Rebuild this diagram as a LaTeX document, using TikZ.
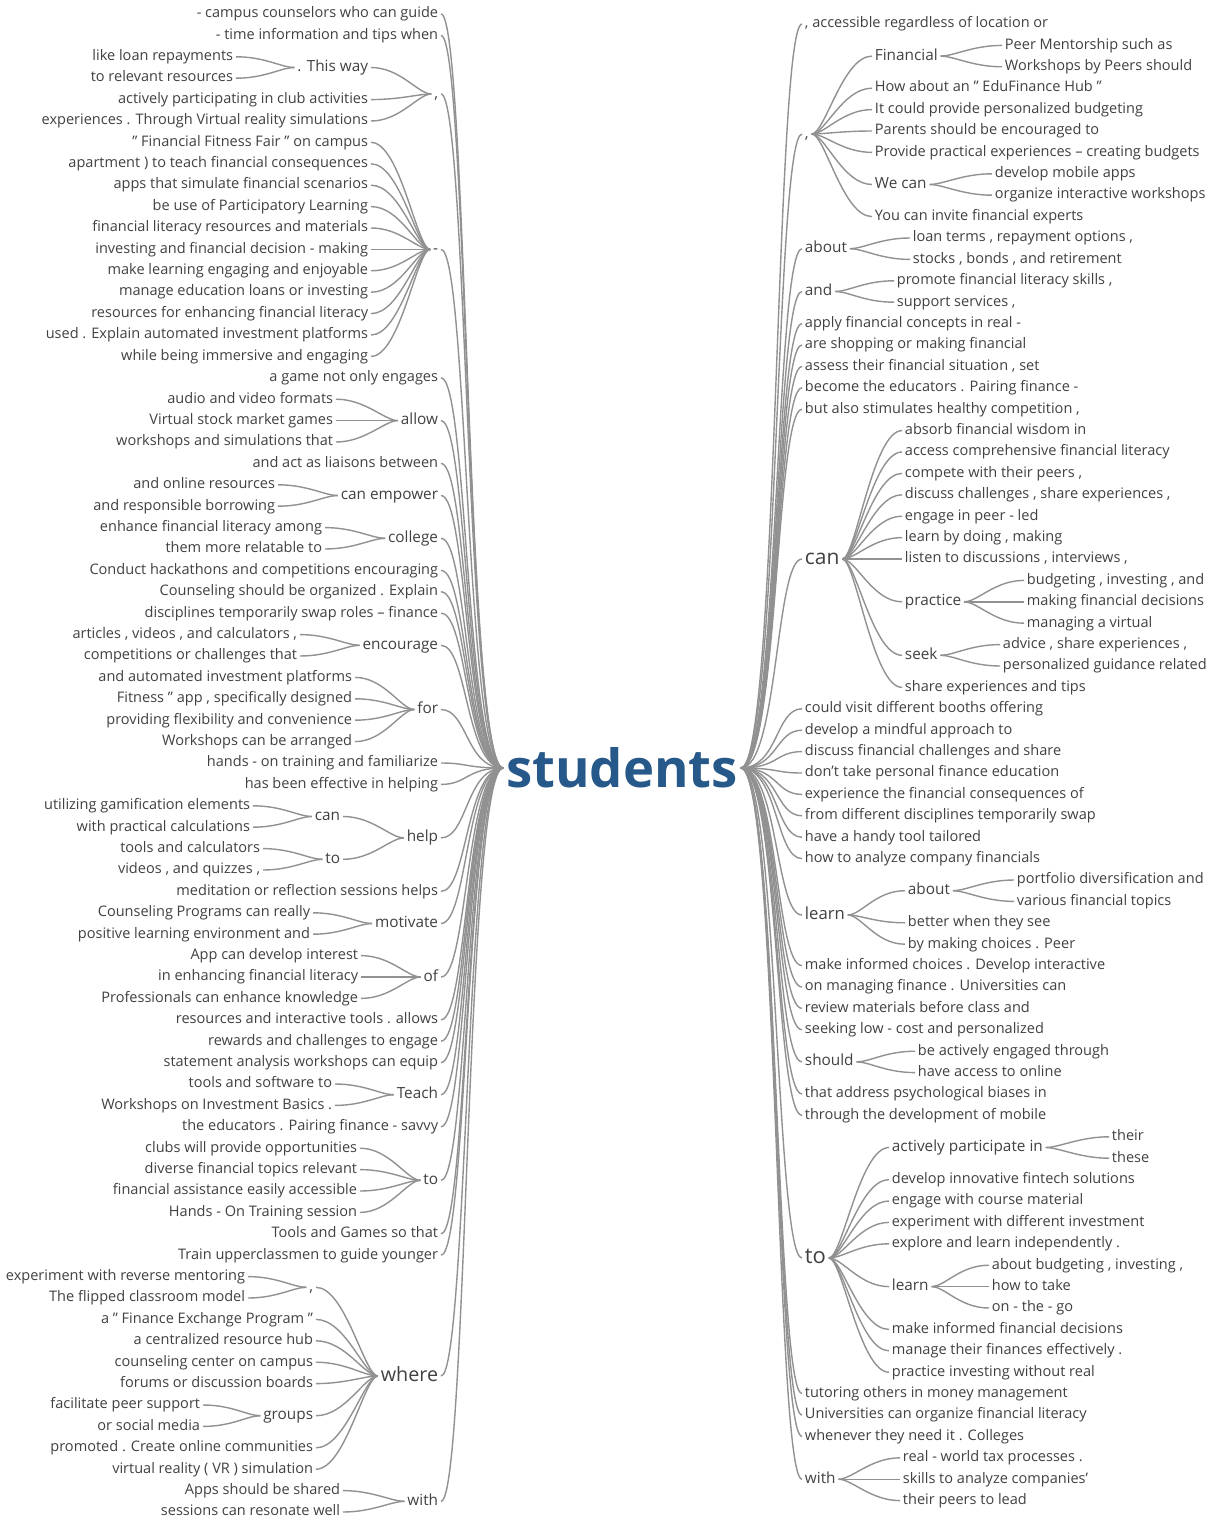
\documentclass[tikz,border=0pt]{standalone}
\usepackage{fontspec}
\setmainfont{Open Sans}
\usetikzlibrary{positioning}
\definecolor{stud}{RGB}{38,88,138}
\definecolor{twig}{RGB}{145,145,145}
\definecolor{ink}{RGB}{65,65,65}

\tikzset{
  wd/.style={font=\fontsize{10.9}{12}\selectfont, text=ink, inner sep=2pt, text height=8.3pt, text depth=2.6pt},
  wdm/.style={font=\fontsize{11.5}{13}\selectfont, text height=8.8pt, text depth=2.7pt},
  lw/.style={wd, anchor=east},
  rw/.style={wd, anchor=west},
  br/.style={draw=twig, line width=1.05pt},
  tlr/.style={out=180, in=0, out distance=28pt, in distance=20pt},
  trr/.style={out=0, in=180, out distance=28pt, in distance=20pt},
  tl/.style={out=180, in=0, out distance=10pt, in distance=22pt},
  tr/.style={out=0, in=180, out distance=10pt, in distance=22pt},
}

\begin{document}
\begin{tikzpicture}[x=0.75pt, y=-0.75pt]
  \useasboundingbox (0,0) rectangle (1214,1519);
  \fill[white] (0,0) rectangle (1214,1519);

  % centre word
  \node[font=\fontsize{39.5}{40}\selectfont\bfseries, text=stud, inner sep=2pt] (root) at (622,768) {students};

  % left side, first level
  \node[lw] (l1) at (441,14.0) {- campus counselors who can guide};
  \node[lw] (l2) at (441,35.4) {- time information and tips when};
  \node[lw, wdm] (Lcomma) at (441,94) {,};
  \node[lw, wdm] (Ldash) at (441,249.4) {-};
  \node[lw] (l18) at (441,377.8) {a game not only engages};
  \node[lw, wdm] (Lallow) at (441,420.6) {allow};
  \node[lw] (l22) at (441,463.4) {and act as liaisons between};
  \node[lw, wdm] (Lempower) at (441,495.5) {can empower};
  \node[lw, wdm] (Lcollege) at (441,538.3) {college};
  \node[lw] (l27) at (441,570.4) {Conduct hackathons and competitions encouraging};
  \node[lw] (l28) at (441,591.8) {Counseling should be organized . Explain};
  \node[lw] (l29) at (441,613.2) {disciplines temporarily swap roles -- finance};
  \node[lw, wdm] (Lencourage) at (441,645.3) {encourage};
  \node[lw, wdm] (Lfor) at (441,709.5) {for};
  \node[lw] (l36) at (441,763.0) {hands - on training and familiarize};
  \node[lw] (l37) at (441,784.4) {has been effective in helping};
  \node[lw, wdm] (Lhelp) at (441,837.9) {help};
  \node[lw] (l42) at (441,891.4) {meditation or reflection sessions helps};
  \node[lw, wdm] (Lmotivate) at (441,923.5) {motivate};
  \node[lw, wdm] (Lof) at (441,977.0) {of};
  \node[lw] (l48) at (441,1019.8) {resources and interactive tools . allows};
  \node[lw] (l49) at (441,1041.2) {rewards and challenges to engage};
  \node[lw] (l50) at (441,1062.6) {statement analysis workshops can equip};
  \node[lw, wdm] (Lteach) at (441,1094.7) {Teach};
  \node[lw] (l53) at (441,1126.8) {the educators . Pairing finance - savvy};
  \node[lw, wdm] (Lto) at (441,1180.3) {to};
  \node[lw] (l58) at (441,1233.8) {Tools and Games so that};
  \node[lw] (l59) at (441,1255.2) {Train upperclassmen to guide younger};
  \node[lw, font=\fontsize{14.8}{16}\selectfont, text height=11.3pt, text depth=3.4pt] (Lwhere) at (441,1376) {where};
  \node[lw, wdm] (Lwith) at (441,1501.3) {with};

  % left side, deeper levels
  \node[lw, wdm] (Lway) at (371,67.5) {. This way};
  \node[lw] (l3) at (236,56.8) {like loan repayments};
  \node[lw] (l4) at (236,78.2) {to relevant resources};
  \node[lw] (l5) at (371,99.6) {actively participating in club activities};
  \node[lw] (l6) at (371,121.0) {experiences . Through Virtual reality simulations};
  \node[lw] (l7) at (371,142.4) {" Financial Fitness Fair " on campus};
  \node[lw] (l8) at (371,163.8) {apartment ) to teach financial consequences};
  \node[lw] (l9) at (371,185.2) {apps that simulate financial scenarios};
  \node[lw] (l10) at (371,206.6) {be use of Participatory Learning};
  \node[lw] (l11) at (371,228.0) {financial literacy resources and materials};
  \node[lw] (l12) at (371,249.4) {investing and financial decision - making};
  \node[lw] (l13) at (371,270.8) {make learning engaging and enjoyable};
  \node[lw] (l14) at (371,292.2) {manage education loans or investing};
  \node[lw] (l15) at (371,313.6) {resources for enhancing financial literacy};
  \node[lw] (l16) at (371,335.0) {used . Explain automated investment platforms};
  \node[lw] (l17) at (371,356.4) {while being immersive and engaging};
  \node[lw] (l19) at (336,399.2) {audio and video formats};
  \node[lw] (l20) at (336,420.6) {Virtual stock market games};
  \node[lw] (l21) at (336,442.0) {workshops and simulations that};
  \node[lw] (l23) at (278,484.8) {and online resources};
  \node[lw] (l24) at (278,506.2) {and responsible borrowing};
  \node[lw] (l25) at (325,527.6) {enhance financial literacy among};
  \node[lw] (l26) at (325,549.0) {them more relatable to};
  \node[lw] (l30) at (300,634.6) {articles , videos , and calculators ,};
  \node[lw] (l31) at (300,656.0) {competitions or challenges that};
  \node[lw] (l32) at (355,677.4) {and automated investment platforms};
  \node[lw] (l33) at (355,698.8) {Fitness " app , specifically designed};
  \node[lw] (l34) at (355,720.2) {providing flexibility and convenience};
  \node[lw] (l35) at (355,741.6) {Workshops can be arranged};
  \node[lw, wdm] (Lhcan) at (343,816.5) {can};
  \node[lw, wdm] (Lhto) at (343,859.3) {to};
  \node[lw] (l38) at (253,805.8) {utilizing gamification elements};
  \node[lw] (l39) at (253,827.2) {with practical calculations};
  \node[lw] (l40) at (263,848.6) {tools and calculators};
  \node[lw] (l41) at (263,870.0) {videos , and quizzes ,};
  \node[lw] (l43) at (313,912.8) {Counseling Programs can really};
  \node[lw] (l44) at (313,934.2) {positive learning environment and};
  \node[lw] (l45) at (361,955.6) {App can develop interest};
  \node[lw] (l46) at (361,977.0) {in enhancing financial literacy};
  \node[lw] (l47) at (361,998.4) {Professionals can enhance knowledge};
  \node[lw] (l51) at (335,1084.0) {tools and software to};
  \node[lw] (l52) at (335,1105.4) {Workshops on Investment Basics .};
  \node[lw] (l54) at (360,1148.2) {clubs will provide opportunities};
  \node[lw] (l55) at (360,1169.6) {diverse financial topics relevant};
  \node[lw] (l56) at (360,1191.0) {financial assistance easily accessible};
  \node[lw] (l57) at (360,1212.4) {Hands - On Training session};
  \node[lw, wdm] (Lwcomma) at (316,1287.3) {,};
  \node[lw] (l60) at (248,1276.6) {experiment with reverse mentoring};
  \node[lw] (l61) at (248,1298.0) {The flipped classroom model};
  \node[lw] (l62) at (316,1319.4) {a " Finance Exchange Program "};
  \node[lw] (l63) at (316,1340.8) {a centralized resource hub};
  \node[lw] (l64) at (316,1362.2) {counseling center on campus};
  \node[lw] (l65) at (316,1383.6) {forums or discussion boards};
  \node[lw, wdm] (Lgroups) at (316,1415.7) {groups};
  \node[lw] (l66) at (203,1405.0) {facilitate peer support};
  \node[lw] (l67) at (203,1426.4) {or social media};
  \node[lw] (l68) at (316,1447.8) {promoted . Create online communities};
  \node[lw] (l69) at (316,1469.2) {virtual reality ( VR ) simulation};
  \node[lw] (l70) at (343,1490.6) {Apps should be shared};
  \node[lw] (l71) at (343,1512.0) {sessions can resonate well};

  % right side, first level
  \node[rw] (r1) at (802,24.0) {, accessible regardless of location or};
  \node[rw, wdm] (Rcomma) at (802,134) {,};
  \node[rw, wdm] (Rabout) at (802,248.7) {about};
  \node[rw, wdm] (Rand) at (802,291.5) {and};
  \node[rw] (r15) at (802,323.6) {apply financial concepts in real -};
  \node[rw] (r16) at (802,345.0) {are shopping or making financial};
  \node[rw] (r17) at (802,366.4) {assess their financial situation , set};
  \node[rw] (r18) at (802,387.8) {become the educators . Pairing finance -};
  \node[rw] (r19) at (802,409.2) {but also stimulates healthy competition ,};
  \node[rw, font=\fontsize{15.7}{17}\selectfont, text height=12pt, text depth=3.6pt] (Rcan) at (802,559) {can};
  \node[rw] (r33) at (802,708.8) {could visit different booths offering};
  \node[rw] (r34) at (802,730.2) {develop a mindful approach to};
  \node[rw] (r35) at (802,751.6) {discuss financial challenges and share};
  \node[rw] (r36) at (802,773.0) {don't take personal finance education};
  \node[rw] (r37) at (802,794.4) {experience the financial consequences of};
  \node[rw] (r38) at (802,815.8) {from different disciplines temporarily swap};
  \node[rw] (r39) at (802,837.2) {have a handy tool tailored};
  \node[rw] (r40) at (802,858.6) {how to analyze company financials};
  \node[rw, font=\fontsize{12.5}{14}\selectfont, text height=9.5pt, text depth=2.9pt] (Rlearn) at (802,915) {learn};
  \node[rw] (r45) at (802,965.6) {make informed choices . Develop interactive};
  \node[rw] (r46) at (802,987.0) {on managing finance . Universities can};
  \node[rw] (r47) at (802,1008.4) {review materials before class and};
  \node[rw] (r48) at (802,1029.8) {seeking low - cost and personalized};
  \node[rw, wdm] (Rshould) at (802,1061.9) {should};
  \node[rw] (r51) at (802,1094.0) {that address psychological biases in};
  \node[rw] (r52) at (802,1115.4) {through the development of mobile};
  \node[rw, font=\fontsize{16.5}{18}\selectfont, text height=12.6pt, text depth=3.8pt] (Rto) at (802,1258) {to};
  \node[rw] (r65) at (802,1393.6) {tutoring others in money management};
  \node[rw] (r66) at (802,1415.0) {Universities can organize financial literacy};
  \node[rw] (r67) at (802,1436.4) {whenever they need it . Colleges};
  \node[rw, wdm] (Rwith) at (802,1479.2) {with};

  % right side, deeper levels
  \node[rw, wdm] (Rfin) at (872,56.1) {Financial};
  \node[rw] (r2) at (1002,45.4) {Peer Mentorship such as};
  \node[rw] (r3) at (1002,66.8) {Workshops by Peers should};
  \node[rw] (r4) at (872,88.2) {How about an " EduFinance Hub "};
  \node[rw] (r5) at (872,109.6) {It could provide personalized budgeting};
  \node[rw] (r6) at (872,131.0) {Parents should be encouraged to};
  \node[rw] (r7) at (872,152.4) {Provide practical experiences -- creating budgets};
  \node[rw, wdm] (Rwecan) at (872,184.5) {We can};
  \node[rw] (r8) at (992,173.8) {develop mobile apps};
  \node[rw] (r9) at (992,195.2) {organize interactive workshops};
  \node[rw] (r10) at (872,216.6) {You can invite financial experts};
  \node[rw] (r11) at (910,238.0) {loan terms , repayment options ,};
  \node[rw] (r12) at (910,259.4) {stocks , bonds , and retirement};
  \node[rw] (r13) at (894,280.8) {promote financial literacy skills ,};
  \node[rw] (r14) at (894,302.2) {support services ,};
  \node[rw] (r20) at (902,430.6) {absorb financial wisdom in};
  \node[rw] (r21) at (902,452.0) {access comprehensive financial literacy};
  \node[rw] (r22) at (902,473.4) {compete with their peers ,};
  \node[rw] (r23) at (902,494.8) {discuss challenges , share experiences ,};
  \node[rw] (r24) at (902,516.2) {engage in peer - led};
  \node[rw] (r25) at (902,537.6) {learn by doing , making};
  \node[rw] (r26) at (902,559.0) {listen to discussions , interviews ,};
  \node[rw, wdm] (Rpractice) at (902,601.8) {practice};
  \node[rw] (r27) at (1024,580.4) {budgeting , investing , and};
  \node[rw] (r28) at (1024,601.8) {making financial decisions};
  \node[rw] (r29) at (1024,623.2) {managing a virtual};
  \node[rw, wdm] (Rseek) at (902,655.3) {seek};
  \node[rw] (r30) at (1000,644.6) {advice , share experiences ,};
  \node[rw] (r31) at (1000,666.0) {personalized guidance related};
  \node[rw] (r32) at (902,687.4) {share experiences and tips};
  \node[rw, wdm] (Rlabout) at (905,890.7) {about};
  \node[rw] (r41) at (1014,880.0) {portfolio diversification and};
  \node[rw] (r42) at (1014,901.4) {various financial topics};
  \node[rw] (r43) at (905,922.8) {better when they see};
  \node[rw] (r44) at (905,944.2) {by making choices . Peer};
  \node[rw] (r49) at (915,1051.2) {be actively engaged through};
  \node[rw] (r50) at (915,1072.6) {have access to online};
  \node[rw, wdm] (Ractive) at (889,1147.5) {actively participate in};
  \node[rw] (r53) at (1109,1136.8) {their};
  \node[rw] (r54) at (1109,1158.2) {these};
  \node[rw] (r55) at (889,1179.6) {develop innovative fintech solutions};
  \node[rw] (r56) at (889,1201.0) {engage with course material};
  \node[rw] (r57) at (889,1222.4) {experiment with different investment};
  \node[rw] (r58) at (889,1243.8) {explore and learn independently .};
  \node[rw, wdm] (Rtlearn) at (889,1286.6) {learn};
  \node[rw] (r59) at (989,1265.2) {about budgeting , investing ,};
  \node[rw] (r60) at (989,1286.6) {how to take};
  \node[rw] (r61) at (989,1308.0) {on - the - go};
  \node[rw] (r62) at (889,1329.4) {make informed financial decisions};
  \node[rw] (r63) at (889,1350.8) {manage their finances effectively .};
  \node[rw] (r64) at (889,1372.2) {practice investing without real};
  \node[rw] (r68) at (900,1457.8) {real - world tax processes .};
  \node[rw] (r69) at (900,1479.2) {skills to analyze companies'};
  \node[rw] (r70) at (900,1500.6) {their peers to lead};

  % branches from the centre word
  \foreach \n in {l1,l2,Lcomma,Ldash,l18,Lallow,l22,Lempower,Lcollege,l27,l28,l29,Lencourage,Lfor,l36,l37,Lhelp,l42,Lmotivate,Lof,l48,l49,l50,Lteach,l53,Lto,l58,l59,Lwhere,Lwith}
    \draw[br] (root.west) to[tlr] (\n.east);
  \foreach \n in {r1,Rcomma,Rabout,Rand,r15,r16,r17,r18,r19,Rcan,r33,r34,r35,r36,r37,r38,r39,r40,Rlearn,r45,r46,r47,r48,Rshould,r51,r52,Rto,r65,r66,r67,Rwith}
    \draw[br] (root.east) to[trr] (\n.west);

  % left twigs
  \foreach \p/\c in {Lcomma/Lway,Lcomma/l5,Lcomma/l6,Lway/l3,Lway/l4,
      Ldash/l7,Ldash/l8,Ldash/l9,Ldash/l10,Ldash/l11,Ldash/l12,Ldash/l13,Ldash/l14,Ldash/l15,Ldash/l16,Ldash/l17,
      Lallow/l19,Lallow/l20,Lallow/l21,Lempower/l23,Lempower/l24,Lcollege/l25,Lcollege/l26,
      Lencourage/l30,Lencourage/l31,Lfor/l32,Lfor/l33,Lfor/l34,Lfor/l35,
      Lhelp/Lhcan,Lhelp/Lhto,Lhcan/l38,Lhcan/l39,Lhto/l40,Lhto/l41,
      Lmotivate/l43,Lmotivate/l44,Lof/l45,Lof/l46,Lof/l47,Lteach/l51,Lteach/l52,
      Lto/l54,Lto/l55,Lto/l56,Lto/l57,
      Lwhere/Lwcomma,Lwcomma/l60,Lwcomma/l61,Lwhere/l62,Lwhere/l63,Lwhere/l64,Lwhere/l65,
      Lwhere/Lgroups,Lgroups/l66,Lgroups/l67,Lwhere/l68,Lwhere/l69,Lwith/l70,Lwith/l71}
    \draw[br] (\p.west) to[tl] (\c.east);

  % right twigs
  \foreach \p/\c in {Rcomma/Rfin,Rfin/r2,Rfin/r3,Rcomma/r4,Rcomma/r5,Rcomma/r6,Rcomma/r7,Rcomma/Rwecan,Rwecan/r8,Rwecan/r9,Rcomma/r10,
      Rabout/r11,Rabout/r12,Rand/r13,Rand/r14,
      Rcan/r20,Rcan/r21,Rcan/r22,Rcan/r23,Rcan/r24,Rcan/r25,Rcan/r26,Rcan/Rpractice,Rpractice/r27,Rpractice/r28,Rpractice/r29,
      Rcan/Rseek,Rseek/r30,Rseek/r31,Rcan/r32,
      Rlearn/Rlabout,Rlabout/r41,Rlabout/r42,Rlearn/r43,Rlearn/r44,Rshould/r49,Rshould/r50,
      Rto/Ractive,Ractive/r53,Ractive/r54,Rto/r55,Rto/r56,Rto/r57,Rto/r58,Rto/Rtlearn,Rtlearn/r59,Rtlearn/r60,Rtlearn/r61,
      Rto/r62,Rto/r63,Rto/r64,Rwith/r68,Rwith/r69,Rwith/r70}
    \draw[br] (\p.east) to[tr] (\c.west);
\end{tikzpicture}
\end{document}
